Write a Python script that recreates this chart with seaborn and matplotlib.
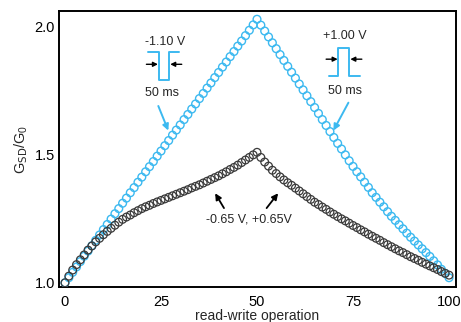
import matplotlib
matplotlib.use("Agg")
import matplotlib.pyplot as plt
import seaborn as sns
import numpy as np
import pandas as pd

# ---------------- data ----------------
operation = list(range(101))

blue_g = [
    1.000, 1.020, 1.041, 1.062, 1.083, 1.104, 1.124, 1.145, 1.166, 1.187,
    1.208, 1.228, 1.249, 1.270, 1.290, 1.311, 1.331, 1.352, 1.372, 1.393,
    1.413, 1.434, 1.454, 1.474, 1.495, 1.515, 1.536, 1.556, 1.577, 1.597,
    1.617, 1.638, 1.658, 1.679, 1.699, 1.720, 1.740, 1.761, 1.781, 1.802,
    1.822, 1.843, 1.863, 1.884, 1.904, 1.925, 1.945, 1.966, 1.987, 2.008,
    2.030,
    2.007, 1.984, 1.961, 1.938, 1.915, 1.892, 1.869, 1.846, 1.823, 1.800,
    1.777, 1.754, 1.731, 1.708, 1.685, 1.662, 1.638, 1.615, 1.591, 1.568,
    1.545, 1.523, 1.500, 1.477, 1.455, 1.434, 1.414, 1.393, 1.373, 1.352,
    1.334, 1.315, 1.297, 1.278, 1.260, 1.244, 1.227, 1.211, 1.194, 1.178,
    1.163, 1.148, 1.133, 1.118, 1.103, 1.086, 1.070, 1.053, 1.037, 1.020,
]

gray_g = [
    1.000, 1.026, 1.050, 1.071, 1.090, 1.109, 1.128, 1.144, 1.160, 1.174,
    1.188, 1.201, 1.213, 1.225, 1.237, 1.248, 1.257, 1.265, 1.274, 1.282,
    1.290, 1.297, 1.303, 1.310, 1.316, 1.322, 1.328, 1.334, 1.340, 1.346,
    1.352, 1.358, 1.364, 1.371, 1.377, 1.383, 1.390, 1.397, 1.404, 1.411,
    1.418, 1.426, 1.434, 1.443, 1.451, 1.460, 1.470, 1.480, 1.490, 1.500,
    1.510,
    1.490, 1.472, 1.456, 1.440, 1.427, 1.414, 1.402, 1.391, 1.381, 1.370,
    1.359, 1.348, 1.337, 1.326, 1.315, 1.306, 1.296, 1.287, 1.277, 1.268,
    1.259, 1.250, 1.242, 1.233, 1.224, 1.216, 1.207, 1.199, 1.190, 1.182,
    1.174, 1.166, 1.157, 1.149, 1.141, 1.133, 1.125, 1.118, 1.110, 1.102,
    1.095, 1.088, 1.080, 1.073, 1.066, 1.059, 1.052, 1.044, 1.037, 1.030,
]

x_ticks = [0, 25, 50, 75, 100]
x_tick_labels = ["0", "25", "50", "75", "100"]
y_ticks = [1.0, 1.5, 2.0]
y_tick_labels = ["1.0", "1.5", "2.0"]

x_label = "read-write operation"
y_label = r"G$_{\mathrm{SD}}$/G$_0$"

pulse_neg_label = "-1.10 V"
pulse_pos_label = "+1.00 V"
width_label = "50 ms"
small_label = "-0.65 V, +0.65V"

BLUE = "#3cb9f0"
GRAY = "#3a3a3a"

# ---------------- figure ----------------
sns.set_style("white")
plt.rcParams["font.family"] = ["Liberation Sans", "DejaVu Sans"]
plt.rcParams["mathtext.default"] = "regular"

fig = plt.figure(figsize=(4.61, 3.22), dpi=100)
ax = fig.add_axes([0.128, 0.109, 0.861, 0.857])

df_blue = pd.DataFrame({"op": operation, "g": blue_g})
df_gray = pd.DataFrame({"op": operation, "g": gray_g})

sns.scatterplot(data=df_blue, x="op", y="g", ax=ax, marker="o", s=31,
                facecolor="none", edgecolor=BLUE, linewidth=1.0, zorder=3)
sns.scatterplot(data=df_gray, x="op", y="g", ax=ax, marker="o", s=31,
                facecolor="none", edgecolor=GRAY, linewidth=0.9, zorder=4)

ax.set_xlim(-1.56, 101.8)
ax.set_ylim(0.984, 2.0625)
ax.set_xticks(x_ticks)
ax.set_xticklabels(x_tick_labels)
ax.set_yticks(y_ticks)
ax.set_yticklabels(y_tick_labels)
ax.set_xlabel(x_label, fontsize=10, labelpad=0)
ax.set_ylabel(y_label, fontsize=10.5, labelpad=3)

for sp in ax.spines.values():
    sp.set_visible(True)
    sp.set_color("black")
    sp.set_linewidth(1.4)
ax.tick_params(axis="both", direction="in", length=4.5, width=1.2,
               labelsize=10.5, colors="black", top=False, right=False)
ax.tick_params(axis="x", pad=5.5)
ax.tick_params(axis="y", pad=3)

# ---------------- annotations ----------------
tfs = 9
# left pulse (-1.10 V)
ax.text(26.2, 1.943, pulse_neg_label, ha="center", va="center", fontsize=tfs)
ax.plot([21.7, 24.5, 24.5, 27.1, 27.1, 29.7],
        [1.901, 1.901, 1.793, 1.793, 1.901, 1.901], color=BLUE, lw=1.4)
ax.annotate("", xy=(24.2, 1.854), xytext=(21.2, 1.854),
            arrowprops=dict(arrowstyle="-|>", color="black", lw=1.0,
                            mutation_scale=7, shrinkA=0, shrinkB=0))
ax.annotate("", xy=(27.4, 1.854), xytext=(30.4, 1.854),
            arrowprops=dict(arrowstyle="-|>", color="black", lw=1.0,
                            mutation_scale=7, shrinkA=0, shrinkB=0))
ax.text(25.3, 1.741, width_label, ha="center", va="center", fontsize=tfs)
ax.annotate("", xy=(26.9, 1.595), xytext=(24.3, 1.691),
            arrowprops=dict(arrowstyle="-|>", color=BLUE, lw=1.4,
                            mutation_scale=9, shrinkA=0, shrinkB=0))

# right pulse (+1.00 V)
ax.text(72.9, 1.965, pulse_pos_label, ha="center", va="center", fontsize=tfs)
ax.plot([68.75, 71.2, 71.2, 74.0, 74.0, 76.8],
        [1.810, 1.810, 1.917, 1.917, 1.810, 1.810], color=BLUE, lw=1.4)
ax.annotate("", xy=(71.0, 1.874), xytext=(68.0, 1.874),
            arrowprops=dict(arrowstyle="-|>", color="black", lw=1.0,
                            mutation_scale=7, shrinkA=0, shrinkB=0))
ax.annotate("", xy=(74.3, 1.874), xytext=(77.3, 1.874),
            arrowprops=dict(arrowstyle="-|>", color="black", lw=1.0,
                            mutation_scale=7, shrinkA=0, shrinkB=0))
ax.text(72.9, 1.748, width_label, ha="center", va="center", fontsize=tfs)
ax.annotate("", xy=(69.9, 1.595), xytext=(73.8, 1.704),
            arrowprops=dict(arrowstyle="-|>", color=BLUE, lw=1.4,
                            mutation_scale=9, shrinkA=0, shrinkB=0))

# small-amplitude annotation
ax.text(48.0, 1.246, small_label, ha="center", va="center", fontsize=tfs)
ax.annotate("", xy=(39.1, 1.350), xytext=(41.4, 1.292),
            arrowprops=dict(arrowstyle="-|>", color="black", lw=1.3,
                            mutation_scale=9, shrinkA=0, shrinkB=0))
ax.annotate("", xy=(55.5, 1.350), xytext=(52.5, 1.292),
            arrowprops=dict(arrowstyle="-|>", color="black", lw=1.3,
                            mutation_scale=9, shrinkA=0, shrinkB=0))

if ax.get_legend() is not None:
    ax.get_legend().remove()

fig.savefig("out.png", dpi=100)
